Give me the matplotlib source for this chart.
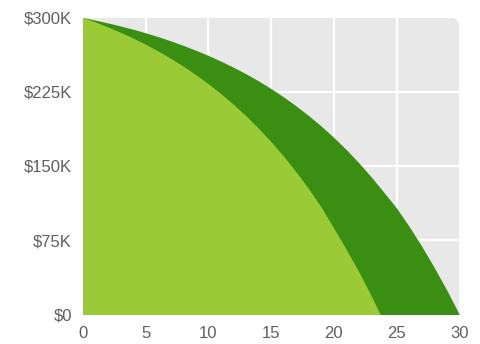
import matplotlib
matplotlib.use("Agg")
import matplotlib.pyplot as plt
from matplotlib.path import Path
from matplotlib.patches import PathPatch

# Remaining loan balance (in $K) by year
years_30 = list(range(0, 31))
balance_30 = [300, 297.3, 294.5, 291.4, 288.1, 284.5, 280.6, 276.4, 271.8, 266.9,
              261.6, 255.9, 249.7, 243.1, 235.9, 228.1, 219.7, 210.6, 200.8, 190.2,
              178.8, 166.5, 153.1, 138.7, 123.2, 107.5, 89.0, 69.0, 47.5, 24.7, 0]

years_fast = list(range(0, 24)) + [23.7]
balance_fast = [300, 295.4, 290.4, 285.0, 279.2, 272.9, 266.1, 258.7, 250.8, 242.2,
                233.0, 223.0, 212.2, 200.6, 188.0, 174.4, 159.8, 143.9, 126.8, 108.3,
                87.0, 65.5, 43.0, 18.4, 0]

x_ticks = [0, 5, 10, 15, 20, 25, 30]
y_ticks = [0, 75, 150, 225, 300]
y_tick_labels = ["$0", "$75K", "$150K", "$225K", "$300K"]

W, H = 481, 344
fig = plt.figure(figsize=(W / 100, H / 100), dpi=100)
left, right, top, bottom = 83, 459.3, 17.5, 314.5
ax = fig.add_axes([left / W, 1 - bottom / H, (right - left) / W, (bottom - top) / H])
ax.set_facecolor("none")

# Plot background with a rounded top-right corner
rx = 10 / (right - left)
ry = 10 / (bottom - top)
verts = [(0, 0), (1, 0), (1, 1 - ry), (1, 1), (1 - rx, 1), (0, 1), (0, 0)]
codes = [Path.MOVETO, Path.LINETO, Path.LINETO, Path.CURVE3, Path.CURVE3,
         Path.LINETO, Path.CLOSEPOLY]
bg = PathPatch(Path(verts, codes), transform=ax.transAxes, facecolor="#e8e8e8",
               edgecolor="none", zorder=0)
ax.add_patch(bg)

# White grid
for xv in x_ticks[1:-1]:
    ax.axvline(xv, color="white", lw=1.6, zorder=1)
for yv in y_ticks[1:-1]:
    ax.axhline(yv, color="white", lw=1.6, zorder=1)

ax.fill_between(years_30, balance_30, 0, color="#3a8f13", lw=0, zorder=2)
ax.fill_between(years_fast, balance_fast, 0, color="#9aca36", lw=0, zorder=3)

ax.set_xlim(0, 30)
ax.set_ylim(0, 300)
ax.set_xticks(x_ticks)
ax.set_yticks(y_ticks)
ax.set_yticklabels(y_tick_labels)
for s in ax.spines.values():
    s.set_visible(False)
ax.tick_params(axis="both", length=0, labelsize=12, colors="#5f5f5f",
               labelfontfamily="Liberation Sans")
ax.tick_params(axis="x", pad=8.5)
ax.tick_params(axis="y", pad=8)

fig.savefig("out.png", dpi=100)
